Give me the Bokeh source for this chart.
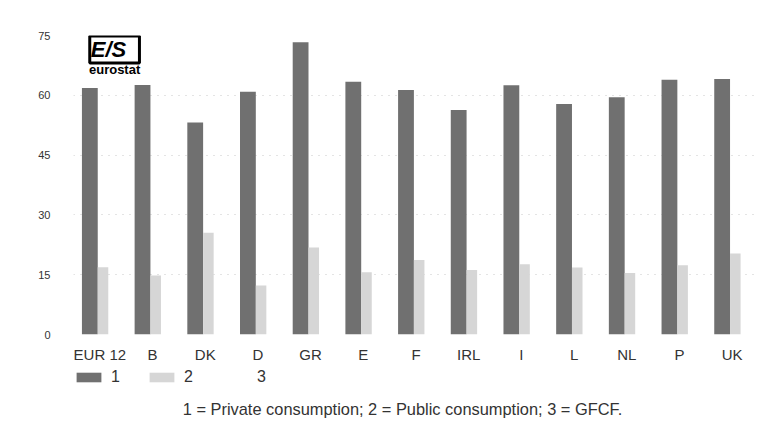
from bokeh.plotting import figure
from bokeh.models import (FactorRange, Range1d, ColumnDataSource, Legend, LegendItem,
                          Label, FixedTicker)
from bokeh.layouts import column
from bokeh.transform import dodge
from bokeh.embed import file_html
from bokeh.resources import INLINE

countries = ["EUR 12", "B", "DK", "D", "GR", "E", "F", "IRL", "I", "L", "NL", "P", "UK"]
private_consumption = [61.8, 62.6, 53.2, 60.9, 73.3, 63.4, 61.3, 56.3, 62.5, 57.8, 59.5, 63.9, 64.1]
public_consumption = [16.9, 14.8, 25.5, 12.3, 21.8, 15.6, 18.7, 16.2, 17.6, 16.8, 15.4, 17.4, 20.3]
y_ticks = [0, 15, 30, 45, 60, 75]
legend_labels = ["1", "2", "3"]
footnote = "1 = Private consumption; 2 = Public consumption; 3 = GFCF."

FONT = "Liberation Sans"
DARK = "#707070"
LIGHT = "#d6d6d6"

src = ColumnDataSource(dict(country=countries, private=private_consumption,
                            public=public_consumption))

p = figure(x_range=FactorRange(*countries, range_padding=0), y_range=Range1d(0, 75),
           width=766, height=365, output_backend="svg", toolbar_location=None,
           min_border_left=73, min_border_right=8, min_border_top=35, min_border_bottom=28)
p.outline_line_color = None
p.background_fill_color = "white"
p.border_fill_color = "white"

p.vbar(x=dodge("country", -0.19, range=p.x_range), top="private", width=0.3,
       source=src, fill_color=DARK, line_color=None)
p.vbar(x=dodge("country", 0.06, range=p.x_range), top="public", width=0.2,
       source=src, fill_color=LIGHT, line_color=None)

p.xgrid.visible = False
p.ygrid.grid_line_color = "#c8c8c8"
p.ygrid.grid_line_dash = "1 6"
p.yaxis.ticker = FixedTicker(ticks=y_ticks)

for ax in (p.xaxis[0], p.yaxis[0]):
    ax.axis_line_color = None
    ax.major_tick_line_color = None
    ax.minor_tick_line_color = None
    ax.major_label_text_font = FONT
    ax.major_label_text_color = "#333333"
p.xaxis.major_label_text_font_size = "15px"
p.xaxis.major_label_standoff = 5
p.yaxis.major_label_text_font_size = "11px"
p.yaxis.major_label_standoff = 17

# eurostat logo
p.add_layout(Label(x=0.78, y=71.5, text=" E/S ", text_font=FONT, text_font_size="22px",
                   text_font_style="bold italic", text_align="center", text_baseline="middle",
                   text_color="black", border_line_color="black", border_line_width=3,
                   background_fill_color="white", padding=1))
p.add_layout(Label(x=0.78, y=66.5, text="eurostat", text_font=FONT, text_font_size="13px",
                   text_font_style="bold", text_align="center", text_baseline="middle",
                   text_color="black"))

# legend + footnote strip (frame aligned with the chart frame)
q = figure(x_range=Range1d(73, 758), y_range=Range1d(0, 55), width=766, height=55,
           output_backend="svg", toolbar_location=None, x_axis_location=None,
           y_axis_location=None, min_border_left=73, min_border_right=8,
           min_border_top=0, min_border_bottom=0)
q.outline_line_color = None
q.grid.visible = False
q.border_fill_color = "white"
hidden = ColumnDataSource(dict(x=[-50], top=[0]))
k1 = q.vbar(x="x", top="top", width=1, source=hidden, fill_color=DARK, line_color=None)
k2 = q.vbar(x="x", top="top", width=1, source=hidden, fill_color=LIGHT, line_color=None)
k3 = q.vbar(x="x", top="top", width=1, source=hidden, fill_color="white", line_color=None)

legend = Legend(items=[LegendItem(label=legend_labels[0], renderers=[k1]),
                       LegendItem(label=legend_labels[1], renderers=[k2]),
                       LegendItem(label=legend_labels[2], renderers=[k3])],
                location=(0, 34), orientation="horizontal", glyph_width=31, glyph_height=12,
                label_standoff=7, spacing=15, padding=2, margin=0, border_line_color=None,
                background_fill_alpha=0, label_text_font=FONT, label_text_font_size="16px",
                label_height=12, label_width=20, label_text_color="#333333")
q.add_layout(legend)

q.add_layout(Label(x=402, y=12, text=footnote, text_font=FONT, text_font_size="16.4px",
                   text_align="center", text_baseline="middle", text_color="#333333"))

open("out.html", "w").write(file_html(column(p, q, spacing=0), INLINE))
